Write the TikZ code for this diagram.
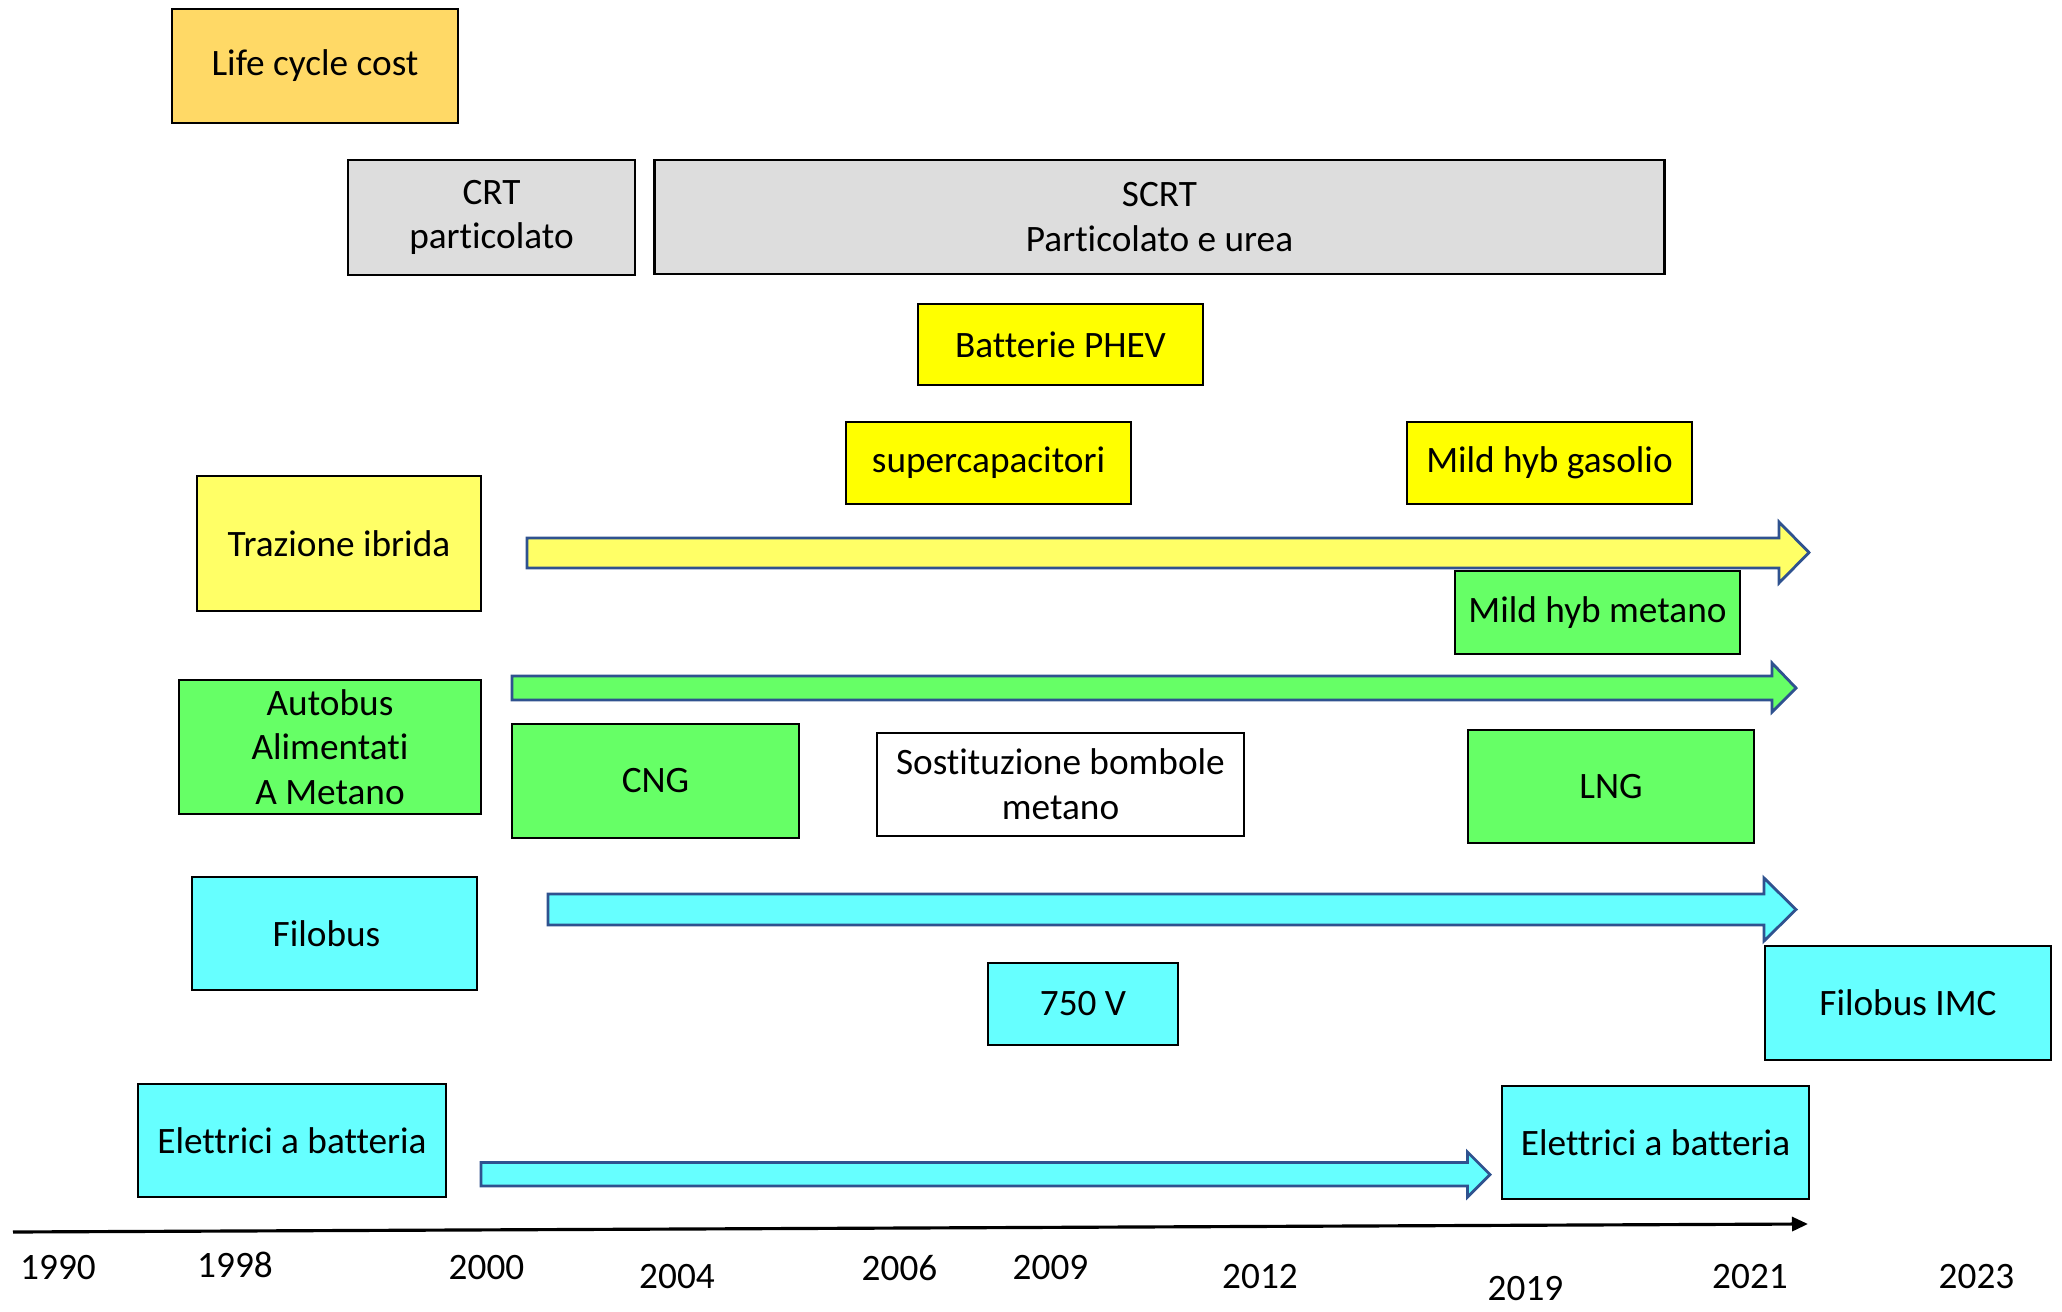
\documentclass[tikz,border=0pt]{standalone}
\usepackage{fontspec}
\setmainfont[Ligatures=NoCommon]{Carlito}
\usetikzlibrary{arrows.meta}

\definecolor{lccgold}{HTML}{FFD966}
\definecolor{dpfgray}{HTML}{DDDDDD}
\definecolor{hybyellow}{HTML}{FFFF00}
\definecolor{lightyellow}{HTML}{FFFF66}
\definecolor{gasgreen}{HTML}{66FF66}
\definecolor{elcyan}{HTML}{66FFFF}
\definecolor{barblue}{HTML}{2F528F}

\begin{document}
\begin{tikzpicture}[x=0.01cm, y=-0.01cm,
    box/.style={draw=black, line width=0.7pt, inner sep=0pt, align=center,
        font=\fontsize{10.6}{12.7}\selectfont},
    bar/.style={draw=barblue, line width=0.8pt, line join=miter},
    year/.style={inner sep=0pt, font=\fontsize{10.6}{12.7}\selectfont}]
    \useasboundingbox (0,0) rectangle (2062,1312);

    % top row
    \node[box, fill=lccgold, minimum width=2.86cm, minimum height=1.14cm] (life) at (315,66) {Life cycle cost};
    \node[box, fill=dpfgray, minimum width=2.87cm, minimum height=1.15cm] (crt) at (491.5,217.5) {CRT\\particolato};
    \node[box, fill=dpfgray, minimum width=10.09cm, minimum height=1.14cm] (scrt) at (1159.5,217) {SCRT\\Particolato e urea};

    % ibrido
    \node[box, fill=hybyellow, minimum width=2.85cm, minimum height=0.81cm] (phev) at (1060.5,344.5) {Batterie PHEV};
    \node[box, fill=hybyellow, minimum width=2.85cm, minimum height=0.82cm] (supercap) at (988.5,463) {supercapacitori};
    \node[box, fill=hybyellow, minimum width=2.85cm, minimum height=0.82cm] (gasolio) at (1549.5,463) {Mild hyb gasolio};
    \node[box, fill=lightyellow, minimum width=2.84cm, minimum height=1.35cm] (ibrida) at (339,543.5) {Trazione ibrida};
    \draw[bar, fill=lightyellow] (527,538) -- (1779,538) -- (1779,522) -- (1809,552.5)
        -- (1779,583) -- (1779,568) -- (527,568) -- cycle;

    % metano
    \node[box, fill=gasgreen, minimum width=2.85cm, minimum height=0.83cm] (mhmetano) at (1597.5,612.5) {Mild hyb metano};
    \draw[bar, fill=gasgreen] (512,676) -- (1772,676) -- (1772,663) -- (1796,688)
        -- (1772,712) -- (1772,700) -- (512,700) -- cycle;
    \node[box, fill=gasgreen, minimum width=3.02cm, minimum height=1.34cm] (metano) at (330,747) {Autobus\\Alimentati\\A Metano};
    \node[box, fill=gasgreen, minimum width=2.87cm, minimum height=1.14cm] (cng) at (655.5,781) {CNG};
    \node[box, fill=white, minimum width=3.67cm, minimum height=1.03cm] (bombole) at (1060.5,784.5) {Sostituzione bombole\\metano};
    \node[box, fill=gasgreen, minimum width=2.86cm, minimum height=1.13cm] (lng) at (1611,786.5) {LNG};

    % filobus
    \node[box, fill=elcyan, minimum width=2.85cm, minimum height=1.13cm] (filobus) at (334.5,933.5) {Filobus\hspace*{0.16cm}};
    \draw[bar, fill=elcyan] (548,894) -- (1764,894) -- (1764,878) -- (1796,909.5)
        -- (1764,941) -- (1764,925) -- (548,925) -- cycle;
    \node[box, fill=elcyan, minimum width=1.90cm, minimum height=0.82cm] (v750) at (1083,1004) {750 V};
    \node[box, fill=elcyan, minimum width=2.86cm, minimum height=1.14cm] (imc) at (1908,1003) {Filobus IMC};

    % elettrici
    \node[box, fill=elcyan, minimum width=3.08cm, minimum height=1.13cm] (elbat) at (292,1140.5) {Elettrici a batteria};
    \draw[bar, fill=elcyan] (481,1162.5) -- (1467.5,1162.5) -- (1467.5,1152) -- (1490,1174.5)
        -- (1467.5,1197) -- (1467.5,1186) -- (481,1186) -- cycle;
    \node[box, fill=elcyan, minimum width=3.07cm, minimum height=1.13cm] (elbatnew) at (1655.5,1142.5) {Elettrici a batteria};

    % asse dei tempi
    \coordinate (axstart) at (13,1232);
    \coordinate (axend) at (1808,1224);
    \draw[line width=0.9pt, -{Triangle[length=0.16cm, width=0.14cm]}] (axstart) -- (axend);
    \node[year] (y1990) at (58,1268) {1990};
    \node[year] (y1998) at (235,1265) {1998};
    \node[year] (y2000) at (486.5,1268) {2000};
    \node[year] (y2004) at (677,1277) {2004};
    \node[year] (y2006) at (899.5,1268) {2006};
    \node[year] (y2009) at (1050.5,1268) {2009};
    \node[year] (y2012) at (1260,1277) {2012};
    \node[year] (y2019) at (1525.5,1289) {2019};
    \node[year] (y2021) at (1750,1277) {2021};
    \node[year] (y2023) at (1976.5,1277) {2023};
\end{tikzpicture}
\end{document}
